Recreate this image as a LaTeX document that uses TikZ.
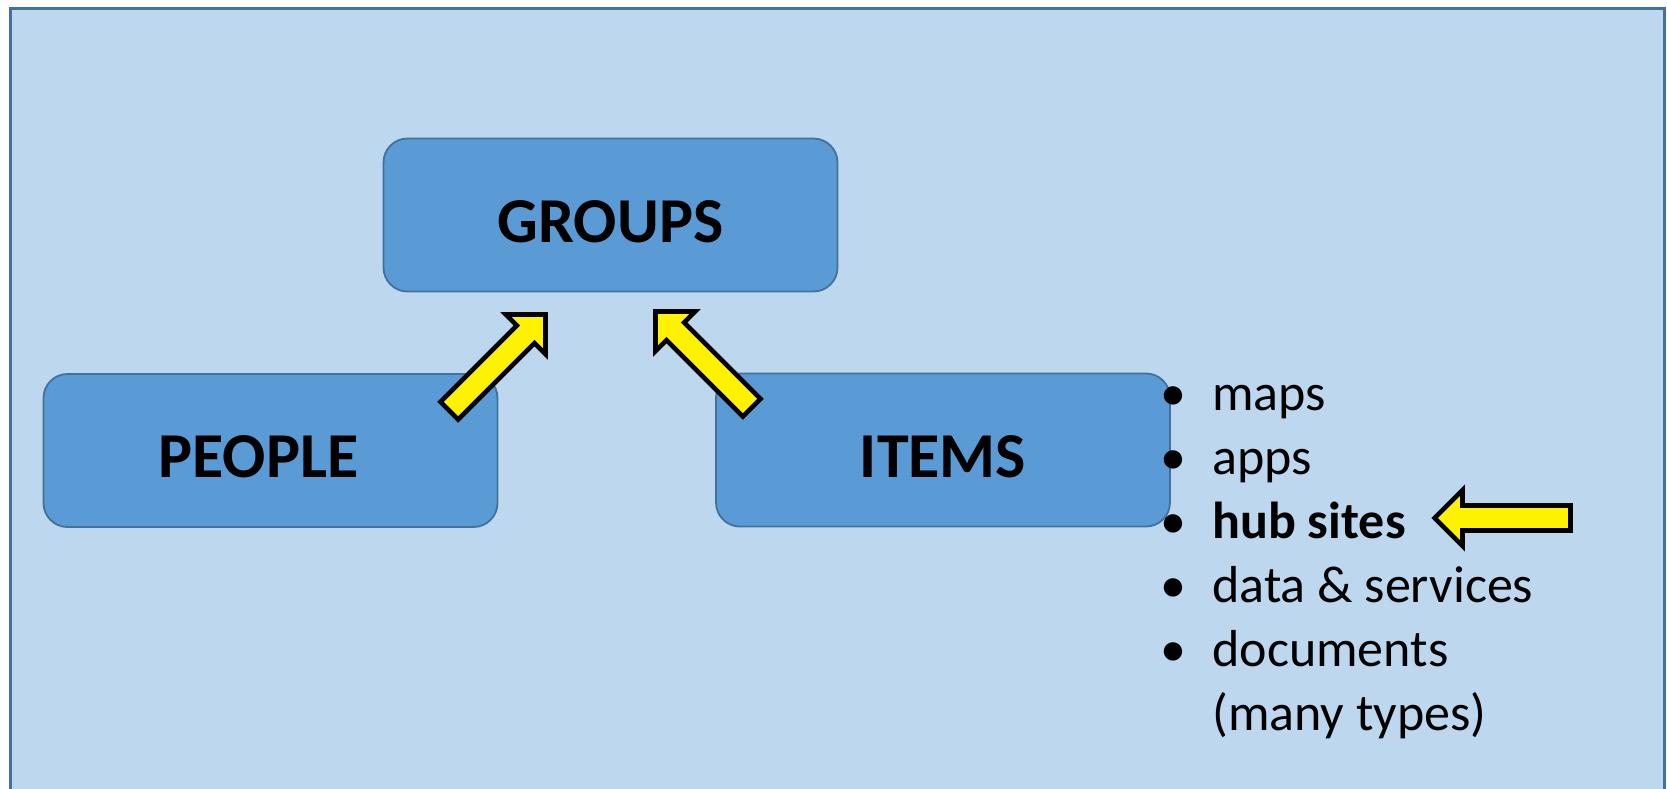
\documentclass[tikz,border=0pt]{standalone}
\usepackage{fontspec}
\setmainfont{Carlito}
\usetikzlibrary{shapes}
\definecolor{paneblue}{RGB}{189,215,238}
\definecolor{boxblue}{RGB}{91,155,213}
\definecolor{boxline}{RGB}{65,113,156}
\tikzstyle{blue_box}=[draw=boxline, line width=0.9pt, fill=boxblue, rounded corners=12pt,
  minimum width=227pt, minimum height=76.5pt, inner sep=0pt,
  font=\bfseries\fontsize{32}{32}\selectfont, text height=27pt, text depth=0pt]
\tikzstyle{yellow_arrow}=[draw=black, fill=yellow, line width=2.3pt, miter limit=10]
\tikzstyle{list_item}=[anchor=base west, inner sep=0pt, font=\fontsize{26}{26}\selectfont]
\tikzstyle{list_dot}=[anchor=base, inner sep=0pt, font=\fontsize{26}{26}\selectfont]

\begin{document}
\begin{tikzpicture}[x=0.5pt, y=-0.5pt]

    % fix the page to the slide size
    \useasboundingbox (0,0) rectangle (1667,788);
    \clip (0,0) rectangle (1667,788);
    % light blue pane, open at the bottom
    \draw[line width=1.5pt, draw=boxline, fill=paneblue] (10,8.5) rectangle (1664,810);

    % the three boxes
    \node[blue_box] (groups) at (610.5,215) {GROUPS};
    \node[blue_box] (people) at (270.5,450.5) {PEOPLE\hspace{12pt}\mbox{}};
    \node[blue_box] (items) at (943,450) {ITEMS};

    % yellow block arrows, tip at (\x,\y), turned by \a
    \foreach \x/\y/\a in {545.5/314.5/45, 655.5/311.5/135, 1434.5/518/180}
    \draw[yellow_arrow, shift={(\x,\y)}, rotate=\a]
    (0,0) -- (-28,28) -- (-28,12.5) -- (-136,12.5) -- (-136,-12.5) -- (-28,-12.5) -- (-28,-28) -- cycle;

    % list of item types
    \foreach \y/\t in {410/maps, 474/apps, 538/{\textbf{hub sites}}, 602/{data \& services}, 666/documents}
    {
    \node[list_dot] (dot\y) at (1173,\y) {•};
    \node[list_item] (item\y) at (1212,\y) {\t};
    }
    \node[list_item] (item730) at (1212,730) {(many types)};
\end{tikzpicture}
\end{document}
